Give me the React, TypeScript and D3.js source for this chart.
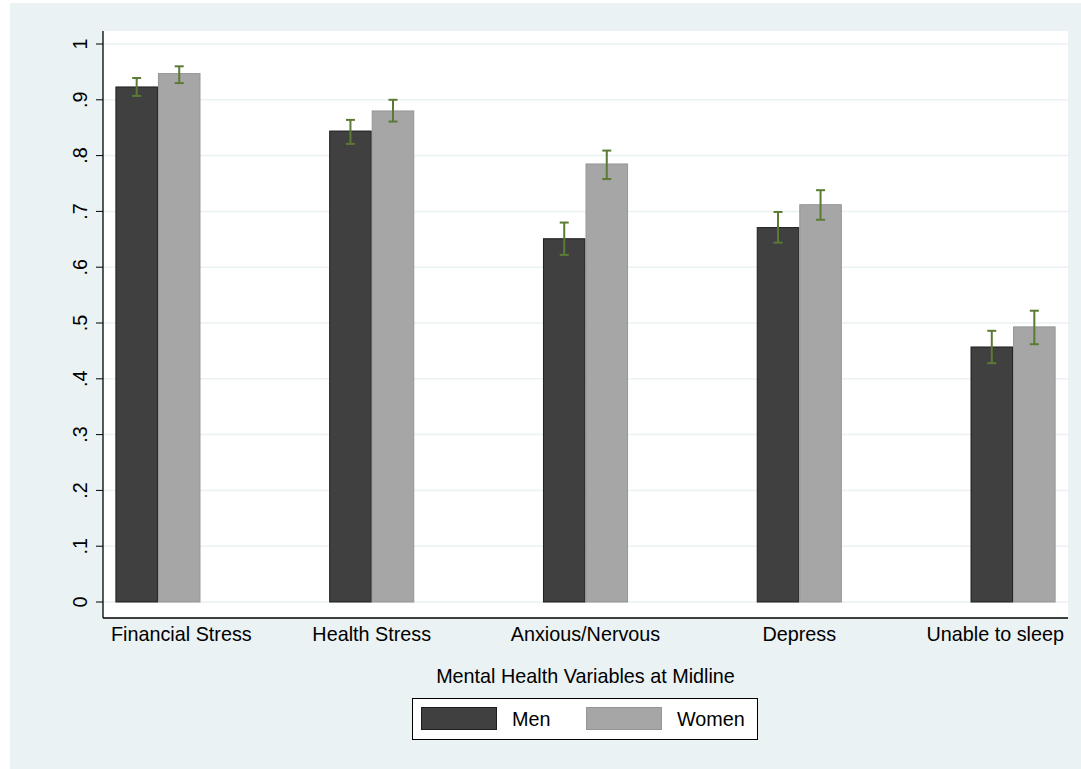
import React, { useEffect, useRef } from "react";
import * as d3 from "d3";

const categories = ["Financial Stress", "Health Stress", "Anxious/Nervous", "Depress", "Unable to sleep"];
const seriesNames = ["Men", "Women"];
const menValues = [0.923, 0.844, 0.651, 0.671, 0.457];
const womenValues = [0.947, 0.880, 0.785, 0.712, 0.493];
const menLow = [0.907, 0.821, 0.622, 0.644, 0.428];
const menHigh = [0.939, 0.864, 0.680, 0.699, 0.486];
const womenLow = [0.930, 0.861, 0.758, 0.685, 0.462];
const womenHigh = [0.960, 0.900, 0.809, 0.738, 0.522];
const yTicks = [0, 0.1, 0.2, 0.3, 0.4, 0.5, 0.6, 0.7, 0.8, 0.9, 1];
const yTickLabels = ["0", ".1", ".2", ".3", ".4", ".5", ".6", ".7", ".8", ".9", "1"];
const xTitle = "Mental Health Variables at Midline";

const W = 1081;
const H = 769;
const FONT = "Arial, 'Liberation Sans', Helvetica, sans-serif";
const FS = 19.8;
const BG = "#EAF2F3";
const fills = ["#404040", "#A6A6A6"];
const strokes = ["#1e1e1e", "#959595"];
const ERR = "#5B7B35";

export default function App() {
  const ref = useRef<SVGSVGElement | null>(null);

  useEffect(() => {
    const svg = d3.select(ref.current);
    svg.selectAll("*").remove();

    const plot = { left: 103, right: 1068, top: 31, bottom: 618 };

    svg.append("rect").attr("x", 10).attr("y", 3).attr("width", W - 10).attr("height", H - 3).attr("fill", BG);
    svg.append("rect")
      .attr("x", plot.left).attr("y", plot.top)
      .attr("width", plot.right - plot.left).attr("height", plot.bottom - plot.top)
      .attr("fill", "#fff");

    const y = d3.scaleLinear().domain([0, 1]).range([602, 44]);
    const x = d3.scaleBand<string>().domain(categories).range([plot.left, plot.right])
      .paddingInner(0.602).paddingOuter(0.058);
    const xs = d3.scaleBand<string>().domain(seriesNames).range([0, x.bandwidth()]);

    // gridlines
    svg.append("g").selectAll("line").data(yTicks).join("line")
      .attr("x1", plot.left).attr("x2", plot.right)
      .attr("y1", (d) => y(d)).attr("y2", (d) => y(d))
      .attr("stroke", BG).attr("stroke-width", 1.5);

    // y axis ticks + labels
    const yg = svg.append("g");
    yg.selectAll("line").data(yTicks).join("line")
      .attr("x1", plot.left - 7).attr("x2", plot.left)
      .attr("y1", (d) => y(d)).attr("y2", (d) => y(d))
      .attr("stroke", "#000").attr("stroke-width", 1);
    yg.selectAll("text").data(yTicks).join("text")
      .attr("transform", (d) => `translate(87,${y(d)}) rotate(-90)`)
      .attr("text-anchor", "middle")
      .attr("font-family", FONT).attr("font-size", FS).attr("fill", "#000")
      .text((d, i) => yTickLabels[i]);

    // bars
    const series = [
      { name: "Men", vals: menValues, lo: menLow, hi: menHigh },
      { name: "Women", vals: womenValues, lo: womenLow, hi: womenHigh },
    ];
    series.forEach((s, si) => {
      const g = svg.append("g");
      g.selectAll("rect").data(categories).join("rect")
        .attr("x", (c) => (x(c) as number) + (xs(s.name) as number) + 0.5)
        .attr("y", (c, i) => y(s.vals[i]))
        .attr("width", xs.bandwidth() - 1)
        .attr("height", (c, i) => y(0) - y(s.vals[i]))
        .attr("fill", fills[si]).attr("stroke", strokes[si]).attr("stroke-width", 1);
    });
    series.forEach((s) => {
      const g = svg.append("g").attr("stroke", ERR).attr("stroke-width", 2).attr("fill", "none");
      categories.forEach((c, i) => {
        const cx = (x(c) as number) + (xs(s.name) as number) + xs.bandwidth() / 2;
        g.append("line").attr("x1", cx).attr("x2", cx).attr("y1", y(s.lo[i])).attr("y2", y(s.hi[i]));
        g.append("line").attr("x1", cx - 4.5).attr("x2", cx + 4.5).attr("y1", y(s.lo[i])).attr("y2", y(s.lo[i]));
        g.append("line").attr("x1", cx - 4.5).attr("x2", cx + 4.5).attr("y1", y(s.hi[i])).attr("y2", y(s.hi[i]));
      });
    });

    // axis lines
    svg.append("line").attr("x1", plot.left).attr("x2", plot.left).attr("y1", plot.top).attr("y2", plot.bottom)
      .attr("stroke", "#000").attr("stroke-width", 1.3);
    svg.append("line").attr("x1", plot.left).attr("x2", plot.right).attr("y1", plot.bottom).attr("y2", plot.bottom)
      .attr("stroke", "#000").attr("stroke-width", 1.3);

    // category labels (clamped into plot region)
    const cl = svg.append("g").selectAll("text").data(categories).join("text")
      .attr("y", 641)
      .attr("text-anchor", "middle")
      .attr("font-family", FONT).attr("font-size", FS).attr("fill", "#000")
      .text((d) => d);
    cl.each(function (c) {
      const node = this as SVGTextElement;
      const w = node.getComputedTextLength();
      let cx = (x(c) as number) + x.bandwidth() / 2;
      cx = Math.max(plot.left + 8 + w / 2, Math.min(plot.right - 4 - w / 2, cx));
      d3.select(node).attr("x", cx);
    });

    // x title
    const midX = (plot.left + plot.right) / 2;
    svg.append("text").attr("x", midX).attr("y", 683).attr("text-anchor", "middle")
      .attr("font-family", FONT).attr("font-size", FS).attr("fill", "#000").text(xTitle);

    // legend
    const lg = svg.append("g");
    lg.append("rect").attr("x", 412.5).attr("y", 698.5).attr("width", 345).attr("height", 41)
      .attr("fill", "#fff").attr("stroke", "#000").attr("stroke-width", 1);
    const swX = [421, 586];
    seriesNames.forEach((n, i) => {
      lg.append("rect").attr("x", swX[i] + 0.5).attr("y", 707.5).attr("width", 75).attr("height", 22)
        .attr("fill", fills[i]).attr("stroke", strokes[i]).attr("stroke-width", 1);
      lg.append("text").attr("x", swX[i] + 91).attr("y", 726)
        .attr("font-family", FONT).attr("font-size", FS).attr("fill", "#000").text(n);
    });
  }, []);

  return (
    <svg
      ref={ref}
      width={W}
      height={H}
      style={{ position: "absolute", left: 0, top: 0, display: "block", background: "#fff" }}
    />
  );
}
